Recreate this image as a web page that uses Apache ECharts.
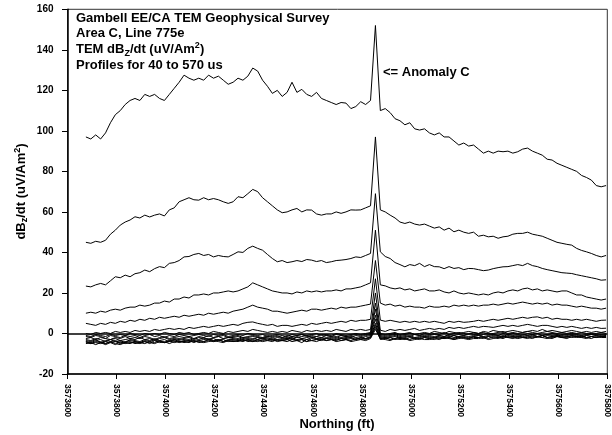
<!DOCTYPE html>
<html><head><meta charset="utf-8">
<script src="https://cdn.jsdelivr.net/npm/echarts@6/dist/echarts.min.js"></script>
<style>html,body{margin:0;padding:0;background:#fff}#c{width:612px;height:435px}</style>
</head><body><div id="c"></div>
<script>
// Station northings (ft)
const stations = [
3573675,3573695,3573715,3573735,3573755,3573775,3573795,3573815,3573835,3573855,
3573875,3573895,3573915,3573935,3573955,3573975,3573995,3574015,3574035,3574055,
3574075,3574095,3574115,3574135,3574155,3574175,3574195,3574215,3574235,3574255,
3574275,3574295,3574315,3574335,3574355,3574375,3574395,3574415,3574435,3574455,
3574475,3574495,3574515,3574535,3574555,3574575,3574595,3574615,3574635,3574655,
3574675,3574695,3574715,3574735,3574755,3574775,3574795,3574815,3574835,3574855,
3574875,3574895,3574915,3574935,3574955,3574975,3574995,3575015,3575035,3575055,
3575075,3575095,3575115,3575135,3575155,3575175,3575195,3575215,3575235,3575255,
3575275,3575295,3575315,3575335,3575355,3575375,3575395,3575415,3575435,3575455,
3575475,3575495,3575515,3575535,3575555,3575575,3575595,3575615,3575635,3575655,
3575675,3575695,3575715,3575735,3575755,3575775,3575795];

const gate01 = [
97,96,98,96,99,104,108,110,113,115,
116,115,118,117,118,116,115,118,121,124,
127.5,126,125,126,125,127.5,126,127,125,123,
124,126,125,127,131,129.5,125,122,118.5,120,
117,119,124,119,120.5,118,117,119,116,115,
114,113,114,113.7,111,112,114.4,113,115,152,
110,111,109,106,105,103,104,101,100.4,101,
99,98,99,97,97,95,93,94,92.5,93,
91,89,90,89,90,89.7,90,89,89.7,91,
91.5,90,89,88,86,85.6,84,83,82,81,
80,78,77,75.7,73,72.4,73];
const gate02 = [
45,44.5,45.5,45,46,49,51,53.5,55,56,
57.6,57,58.4,57.5,58.4,59,58,61,62,65,
66,67,66,65.8,67,66,66.6,66,65,64.2,
65,67.5,67,69,71.1,70,67,65,63,61,
59.6,60,61,61.7,60,61,60.9,59,58.4,59,
59,60,59.3,60,61,60.9,61,62,63,97,
61,60,58.4,57,55,54.3,55,54,53.5,54,
53,52,52.6,51,52,50.2,51,50,49.4,50,
48,48.5,47.7,48,47,47.7,48,49,49.4,49.4,
50,49,48.5,48,47,46,45,44.5,44,43.6,
42,41,40.3,39.5,38.5,37.8,38.5];
const gate03 = [
23.4,23,24,24.7,24,26,28,27.5,28.8,28,
29.5,30,31.3,30.5,32,33,32.5,34.6,35,36,
37.8,38,39,39.5,38.5,39,37.8,38.5,38,37.8,
39,40.3,40,42,43.1,42,41.1,39,37,35.4,
36,35,35.4,36,35.5,36.5,36.2,35.5,36,35,
35.4,36,36.2,36.5,37,37.8,37.5,38.5,39.5,69,
40.3,38,37,35,34,32.9,34,33.5,34.6,33,
34,33,32.9,32,33,32.1,32.5,31.5,32.1,32,
31.5,31,31.3,32,32.5,32.9,33,33.5,34,33.5,
34.6,33.5,33,32.1,31.5,31,30.5,30,29.8,29.6,
29,28.5,28,27.5,27,26.3,26.5];
const gate04 = [
10,10.5,10,11,10.5,11.5,12,11.5,12.5,13,
13,14,13.5,14,15,15,16,15.5,17,17,
18,17.5,19,19,19.5,19,20,20,20.5,21,
20.5,21,22,23,25,24,23,22,21,20.5,
20,20,19.5,20.5,20,21,20.5,21,20.5,21,
21,21.5,21,22,22,22.5,23,24,25,51,
24,23.5,22.5,22,22.5,21.5,22,21,21.5,22,
21,21,21.5,20.5,20,21,20,19.5,20,19.5,
19,19.5,19,20,20.5,20,21,21.5,21,22,
22.4,21.5,22,21,21.5,21,20.5,21,21,20,
19,19,18,17.5,17,16.5,17];
const gate05 = [
5,4.5,4,5,4.5,5.5,5,6,5.5,6.5,
6,7,6.5,7.5,7,8,7.5,8,8.5,8,
9,8.5,9,9.5,9,10,9.5,10,10.5,10,
11,11.5,12,13,14,13,12.5,12,11,11,
10.5,10,10.5,11,11.5,11,12,12,11.5,12,
12.5,12,13,12.5,13,13,13.5,14,14.5,36,
15,14,14.5,13.5,14,13,13.5,13,13,12.5,
13.5,13,13,13.5,13,14,13.5,14,13.5,14,
13.5,14,14,14.5,14,14.5,15,14.5,15,15.5,
15,14.5,15,14.5,15,14,14.5,14,14,13.5,
13,13.5,13,12.5,12.5,12,12.5];
const gate06 = [
0,-0.5,0.5,0,0.5,0,1,0.5,1,0.5,
1.5,1,1.5,1,2,1.5,2,2.5,2,2.5,
2,3,2.5,3,3.5,3,3.5,4,3.5,4,
4.5,4,5,5.5,5.7,5,4.5,4,4.5,3.5,
4,4,3.5,4,4.5,4,5,4.5,5,5.5,
5,5.5,6,5.5,6.5,6,6.5,6.5,7,27,
6.6,6,6.5,6,5.5,6,5.5,6,5.5,6,
5.5,6,5.5,5,6,5.5,6,5.5,5.7,6,
6.5,6,6.5,7,6.5,7,7.5,7,7.5,8,
7.5,8,8.2,7.5,8,7,7.5,7,7,6.5,
7,6.5,7,6.5,6,6.5,6.6];
const gate07 = [
-1,-1.5,-0.5,-1,-1.5,-0.5,-1,-0.5,-1,0,
-0.5,-1,0,-0.5,0,-0.5,0.5,0,-0.5,0.5,
0,0.5,-0.5,0,0.5,0,1,0.5,0,1,
0.5,1,1.5,1,2,1.5,1,0.5,1,0.5,
1,0.5,1.5,1,0.5,1.5,1,1.5,1,1.5,
1,2,1.5,1,2,1.5,2,1.5,2,20,
1.6,1,2,1.5,2,1.5,2,2.5,1.5,2,
2.5,2,2.5,2,3,2.5,3,2.5,3,3.5,
3,3.5,3.3,3,3.5,4,3.5,4,3.5,4,
4.5,4,3.5,4,4,3.5,3,3.5,3,3.5,
3,2.5,3,2.5,3,2.5,2.6];
const gate08 = [
-1.5,-2,-1,-1.5,-2.5,-1,-1.5,-2,-1,-1.5,
-1,-2,-1,-0.5,-1.5,-1,-2,-1,-1.5,-0.5,
-1,-1.5,-1,-0.5,-1,-1.5,-0.5,-1,-0.5,-1.5,
-1,-0.5,-1,0,-0.5,-1,-0.5,-1.5,-1,-0.5,
-1,-1.5,-0.5,-1,-0.5,-1,-0.5,0,-1,-0.5,
-1,0,-0.5,-1,-0.5,0,-0.5,0,0.5,15,
0,-0.5,0,0.5,-0.5,0,0.5,-0.5,0,0.5,
0,1,0.5,0,1,0.5,0,0.5,1,0.5,
0,1,0.5,1.5,1,0.5,1,1.5,1,0.5,
1,1.5,1,2,1,1.5,1,0.5,1,1.5,
1,0.5,1,0.5,1,0.5,1];
const gate09 = [
-2.5,-2,-3,-2,-2.5,-3,-2,-2.5,-1.5,-2.5,
-2,-2.5,-1.5,-2,-3,-2,-1.5,-2.5,-2,-1.5,
-2,-1.5,-2.5,-1.5,-2,-1,-2,-1.5,-1,-2,
-1.5,-1,-2,-1.5,-1,-1.5,-2,-1,-1.5,-1,
-2,-1,-1.5,-1,-0.5,-1.5,-1,-1.5,-0.5,-1,
-1.5,-0.5,-1,-1.5,-1,-0.5,-1,-0.5,0,12,
-0.5,-1,-0.5,0,-1,-0.5,0,-0.5,-1,0,
-0.5,0,-0.5,0.5,-0.5,0,0.5,0,-0.5,0.5,
0,0.5,-0.5,0,0.5,1,0,0.5,0,0.5,
1,0.5,0,0.5,1,0.5,0,0.5,0,0.5,
0,0.5,0,-0.5,0,0.5,0];
const gate10 = [
-3,-3.5,-2.5,-3,-4,-3,-2.5,-3.5,-3,-2.5,
-3,-2,-3,-2.5,-3.5,-2.5,-2,-3,-2.5,-3,
-2.5,-2,-3,-2,-2.5,-3,-2,-1.5,-2.5,-2,
-2,-1.5,-2.5,-2,-1.5,-2,-2.5,-1.5,-2,-1.5,
-2,-2.5,-1.5,-2,-1.5,-1,-2,-1.5,-2,-1,
-1.5,-2,-1,-1.5,-2,-1,-1.5,-1,-0.5,9,
-1,-1.5,-1,-0.5,-1.5,-1,-1.5,-0.5,-1,-1.5,
-1,-0.5,-1,-1.5,-0.5,-1,-0.5,-1,0,-0.5,
-1,-0.5,0,-0.5,-1,0,-0.5,0,-0.5,-1,
0,-0.5,0,-1,-0.5,0,-0.5,-1,-0.5,0,
-0.5,-1,-0.5,0,-0.5,-1,-0.5];
const gate11 = [
-3.5,-4,-3,-4.5,-3.5,-3,-4,-3.5,-4.5,-3,
-3.5,-4,-3,-3.5,-2.5,-3.5,-3,-4,-3,-2.5,
-3,-3.5,-2.5,-3,-2,-3,-2.5,-3.5,-2.5,-2,
-2.5,-3,-2,-2.5,-3,-2,-2.5,-2,-3,-2,
-2.5,-2,-3,-1.5,-2.5,-2,-1.5,-2.5,-2,-2.5,
-2,-1.5,-2.5,-2,-1.5,-2,-2.5,-1.5,-1,7,
-1.5,-2,-1.5,-1,-2,-1.5,-1,-2,-1.5,-1,
-1.5,-2,-1,-1.5,-1,-2,-1.5,-1,-1.5,-1,
-0.5,-1.5,-1,-0.5,-1,-1.5,-0.5,-1,-1.5,-0.5,
-1,-0.5,-1.5,-1,-0.5,-1,-1.5,-0.5,-1,-0.5,
-1,-1.5,-1,-0.5,-1,-0.5,-1];
const gate12 = [
-4,-4.5,-3.5,-4,-5,-4,-3.5,-4.5,-4,-3.5,
-4,-4.5,-3.5,-4,-3,-4,-4.5,-3.5,-3,-4,
-3.5,-3,-4,-3.5,-3,-2.5,-3.5,-3,-4,-3,
-3,-2.5,-3.5,-3,-2.5,-3,-2,-3,-2.5,-3.5,
-3,-2.5,-2,-3,-2.5,-3,-2,-2.5,-3,-2,
-2.5,-3,-2,-2.5,-2,-3,-2,-2.5,-1.5,5,
-2,-2.5,-2,-1.5,-2.5,-2,-1.5,-2.5,-2,-1.5,
-2,-1.5,-2.5,-2,-1.5,-1,-2,-1.5,-2,-1.5,
-1,-2,-1.5,-1,-1.5,-2,-1,-1.5,-1,-2,
-1.5,-1,-1.5,-2,-1,-1.5,-1,-2,-1.5,-1,
-1.5,-1,-2,-1.5,-1,-1.5,-1];
const gate13 = [
-4.5,-5,-4,-4.5,-5.5,-4.5,-4,-5,-4.5,-5,
-4,-4.5,-5,-4,-4.5,-3.5,-4.5,-4,-3.5,-4.5,
-4,-3.5,-4.5,-3.5,-4,-3,-4,-3.5,-3,-4,
-3.5,-4,-3,-3.5,-4,-3,-3.5,-2.5,-3.5,-3,
-3.5,-3,-2.5,-3.5,-3,-4,-2.5,-3,-3.5,-2.5,
-3,-2.5,-3.5,-3,-2.5,-3,-2,-3,-2,4,
-2.5,-2,-3,-2.5,-2,-2.5,-3,-2,-2.5,-2,
-2.5,-2,-1.5,-2.5,-2,-2.5,-1.5,-2,-2.5,-1.5,
-2,-1.5,-2.5,-1.5,-2,-1,-2,-1.5,-2,-1.5,
-1,-2,-1.5,-1,-2,-1.5,-1,-1.5,-2,-1,
-1.5,-2,-1,-1.5,-2,-1.5,-1.5];
const gate14 = [
-5,-4.5,-5.5,-4.5,-5,-4,-5,-5.5,-4.5,-4,
-5,-4.5,-4,-5,-3.5,-4.5,-4,-5,-4,-3.5,
-4.5,-4,-3.5,-4.5,-4,-3.5,-4,-3,-4,-3.5,
-4,-3.5,-3,-4,-3.5,-4,-3,-3.5,-4,-3,
-3.5,-4,-3,-3.5,-4.5,-3,-3.5,-3,-2.5,-3.5,
-3,-3.5,-2.5,-3,-3.5,-2.5,-3,-2.5,-2,3,
-3,-2.5,-2,-3,-2.5,-3,-2,-2.5,-3,-2,
-2.5,-3,-2,-2.5,-2,-3,-2.5,-2,-2.5,-2,
-2,-2.5,-1.5,-2,-2.5,-1.5,-2,-2.5,-1.5,-2,
-2.5,-1.5,-2,-1,-2,-2.5,-1.5,-2,-1.5,-2,
-1.5,-2,-2.5,-1.5,-2,-1.5,-2];
const gate15 = [
-4,-5,-4.5,-5,-4,-4.5,-5.5,-4,-5,-4.5,
-4.5,-5,-4,-4.5,-5,-4,-4.5,-3.5,-4.5,-4,
-4,-4.5,-3.5,-4,-4.5,-4,-3.5,-4,-4.5,-3.5,
-4,-3.5,-4,-3,-4,-3.5,-4,-3.5,-3,-4,
-3.5,-3,-4,-3.5,-3,-4,-3.5,-4,-3,-3.5,
-3,-4,-3.5,-3,-4,-3.5,-3,-3.5,-2.5,2,
-2.5,-3,-3.5,-2.5,-3,-2.5,-3.5,-3,-2.5,-3,
-3,-2.5,-3,-2,-2.5,-3,-2,-2.5,-3,-2.5,
-2.5,-2,-3,-2.5,-2,-2.5,-1.5,-2,-2.5,-2,
-2,-2.5,-1.5,-2,-2.5,-2,-1.5,-2,-2.5,-1.5,
-2,-1.5,-2,-2.5,-1.5,-2,-2];

const profiles = [gate01,gate02,gate03,gate04,gate05,gate06,gate07,gate08,
                  gate09,gate10,gate11,gate12,gate13,gate14,gate15];

const xMin = 3573600, xMax = 3575800, xStep = 200;
const yMin = -20, yMax = 160, yStep = 20;

const FONT = "'Liberation Sans', Arial, Helvetica, sans-serif";
const chart = echarts.init(document.getElementById('c'), null, {renderer:'canvas'});

const series = profiles.map((vals, k) => ({
  type: 'line',
  data: vals.map((v, i) => [stations[i], v]),
  showSymbol: false,
  symbol: 'none',
  lineStyle: {color: '#000', width: 1},
  z: 3,
  silent: true,
  markLine: k === 0 ? {
    silent: true, symbol: 'none', label: {show: false},
    lineStyle: {color: '#000', width: 1.5, type: 'solid'},
    data: [{yAxis: 0}]
  } : undefined
}));

const T = {fontFamily: FONT, fontWeight: 'bold', fontSize: 13, fill: '#000'};
const richT = {
  a: {fontFamily: FONT, fontWeight: 'bold', fontSize: 13, color: '#000', lineHeight: 18},
  s: {fontFamily: FONT, fontWeight: 'bold', fontSize: 9, color: '#000', padding: [8, 0, 0, 0], lineHeight: 18},
  p: {fontFamily: FONT, fontWeight: 'bold', fontSize: 9, color: '#000', padding: [0, 0, 7, 0], lineHeight: 18}
};
function txt(x, y, s, extra) {
  return {type: 'text', x: x, y: y, silent: true,
    style: Object.assign({text: s, align: 'left', verticalAlign: 'middle'}, T, extra || {})};
}

chart.setOption({
  animation: false,
  backgroundColor: '#fff',
  grid: {left: 67.5, right: 4.7, top: 9.3, bottom: 61, show: true,
         borderColor: '#333', borderWidth: 1, backgroundColor: 'transparent'},
  xAxis: {
    type: 'value', min: xMin, max: xMax, interval: xStep,
    axisLine: {show: true, onZero: false, lineStyle: {color: '#000', width: 1.5}},
    axisTick: {show: true, inside: false, length: 5, lineStyle: {color: '#000', width: 1}},
    axisLabel: {rotate: -90, margin: 10, fontFamily: FONT, fontWeight: 'bold', fontSize: 8.5, color: '#000',
                formatter: v => String(v)},
    splitLine: {show: false}
  },
  yAxis: {
    type: 'value', min: yMin, max: yMax, interval: yStep,
    axisLine: {show: true, onZero: false, lineStyle: {color: '#000', width: 1.5}},
    axisTick: {show: true, inside: false, length: 5.5, lineStyle: {color: '#000', width: 1}},
    axisLabel: {margin: 14, fontFamily: FONT, fontWeight: 'bold', fontSize: 10, color: '#000'},
    splitLine: {show: false}
  },
  series: series,
  graphic: [
    txt(76, 18.3, 'Gambell EE/CA TEM Geophysical Survey'),
    txt(76, 33.5, 'Area C, Line 775e'),
    {type: 'text', x: 76, y: 49.3, silent: true, style: {
      text: '{a|TEM dB}{s|Z}{a|/dt (uV/Am}{p|2}{a|)}', align: 'left', verticalAlign: 'middle', rich: richT}},
    txt(76, 65, 'Profiles for 40 to 570 us'),
    txt(383, 72, '<= Anomaly C'),
    txt(337, 424, 'Northing (ft)', {align: 'center'}),
    {type: 'text', x: 21, y: 191.5, rotation: Math.PI / 2, silent: true, style: {
      text: '{a|dB}{s|z}{a|/dt (uV/Am}{p|2}{a|)}', align: 'center', verticalAlign: 'middle', rich: richT}}
  ]
});
</script></body></html>
